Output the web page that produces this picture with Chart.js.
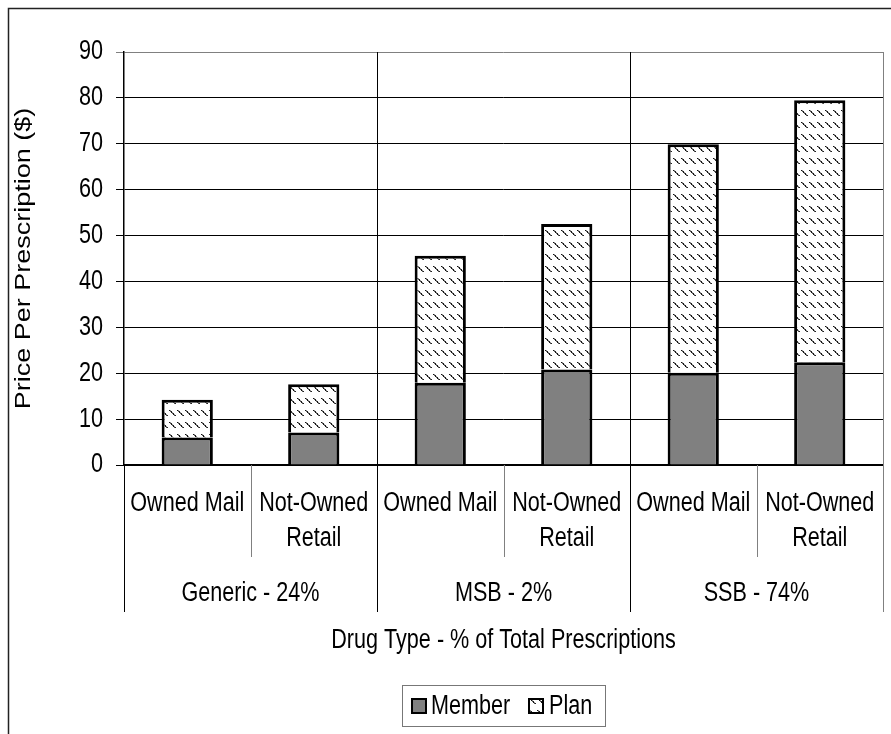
<!DOCTYPE html>
<html>
<head>
<meta charset="utf-8">
<script src="https://cdn.jsdelivr.net/npm/chart.js@4/dist/chart.umd.min.js"></script>
<style>
  html, body { margin: 0; padding: 0; background: #ffffff; }
  #wrap { width: 891px; height: 734px; position: relative; }
</style>
</head>
<body>
<div id="wrap"><canvas id="c" width="891" height="734"></canvas></div>
<script>
// Channel labels under each bar (two bars per drug type)
const channels = ['Owned Mail', ['Not-Owned', 'Retail'], 'Owned Mail', ['Not-Owned', 'Retail'], 'Owned Mail', ['Not-Owned', 'Retail']];
// Drug type groups, each spanning two channels
const drugTypes = ['Generic - 24%', 'MSB - 2%', 'SSB - 74%'];
// Price per prescription ($) split into member share and plan share
const memberCost = [6.0, 7.1, 17.9, 20.8, 20.1, 22.4];
const planCost = [8.2, 10.5, 27.7, 31.7, 49.8, 57.1];
const seriesNames = ['Member', 'Plan'];
const yTicks = [0, 10, 20, 30, 40, 50, 60, 70, 80, 90];

const FONT = "27px 'Liberation Sans', Arial, sans-serif";
const SQUEEZE = 0.8; // condensed lettering: narrower than tall

// Condensed text: regular face compressed horizontally
function condensedText(ctx, text, x, y, align) {
  ctx.save();
  ctx.translate(x, y);
  ctx.scale(SQUEEZE, 1);
  ctx.font = FONT;
  ctx.textAlign = align || 'center';
  ctx.textBaseline = 'middle';
  ctx.fillStyle = '#000';
  ctx.fillText(text, 0, 0);
  ctx.restore();
}

// Dotted downward-diagonal hatch, short dashes in rows
function makeHatch() {
  const t = document.createElement('canvas');
  t.width = 8; t.height = 12;
  const g = t.getContext('2d');
  g.fillStyle = '#ffffff';
  g.fillRect(0, 0, 8, 12);
  for (let i = 0; i < 6; i++) {
    g.fillStyle = (i % 2 === 0) ? '#111111' : '#555555';
    g.fillRect(1 + i, 2 + i, 1, 1);
    g.fillStyle = (i % 2 === 0) ? '#8a8a8a' : '#222222';
    g.fillRect(2 + i, 2 + i, 1, 1);
  }
  const c = document.createElement('canvas').getContext('2d');
  return c.createPattern(t, 'repeat');
}
const hatch = makeHatch();

const decor = {
  id: 'decor',
  afterDraw(chart) {
    const ctx = chart.ctx;
    const x = chart.scales.x;
    const y = chart.scales.y;
    const area = chart.chartArea;
    const n = channels.length;
    const per = n / drugTypes.length;
    const bound = i => {
      if (i <= 0) return area.left;
      if (i >= n) return area.right;
      return (x.getPixelForValue(i - 1) + x.getPixelForValue(i)) / 2;
    };
    const subBottom = area.bottom + 92;
    const groupBottom = area.bottom + 147;

    ctx.save();
    // outer frame
    ctx.strokeStyle = '#222';
    ctx.lineWidth = 1.5;
    ctx.beginPath();
    ctx.moveTo(8.5, 740); ctx.lineTo(8.5, 8.5); ctx.lineTo(900, 8.5);
    ctx.stroke();

    // minor dividers between channels inside a group
    ctx.lineWidth = 1;
    ctx.strokeStyle = '#808080';
    for (let i = 1; i < n; i++) {
      if (i % per === 0) continue;
      const px = Math.round(bound(i)) + 0.5;
      ctx.beginPath(); ctx.moveTo(px, area.bottom); ctx.lineTo(px, subBottom); ctx.stroke();
    }
    // group dividers through plot and category band
    for (let gi = 0; gi <= drugTypes.length; gi++) {
      const i = gi * per;
      const px = Math.round(bound(i)) + 0.5;
      const top = (gi === 0) ? area.bottom : area.top;
      ctx.strokeStyle = (gi === drugTypes.length) ? '#808080' : '#000';
      ctx.beginPath(); ctx.moveTo(px, top); ctx.lineTo(px, groupBottom); ctx.stroke();
    }

    // y tick labels
    yTicks.forEach(v => condensedText(ctx, String(v), 103, y.getPixelForValue(v), 'right'));

    // channel labels
    channels.forEach((lab, i) => {
      const lines = Array.isArray(lab) ? lab : [lab];
      const cx = x.getPixelForValue(i);
      lines.forEach((ln, k) => condensedText(ctx, ln, cx, area.bottom + 39 + k * 35));
    });

    // drug type labels
    drugTypes.forEach((lab, gi) => {
      const cx = (bound(gi * per) + bound((gi + 1) * per)) / 2;
      condensedText(ctx, lab, cx, area.bottom + 129);
    });

    // x axis title
    condensedText(ctx, 'Drug Type - % of Total Prescriptions', (area.left + area.right) / 2, 641);

    // y axis title
    ctx.save();
    ctx.translate(24, (area.top + area.bottom) / 2);
    ctx.rotate(-Math.PI / 2);
    ctx.scale(1 / SQUEEZE, SQUEEZE);
    condensedText(ctx, 'Price Per Prescription ($)', 0, 0);
    ctx.restore();

    // legend
    ctx.strokeStyle = '#777';
    ctx.lineWidth = 1;
    ctx.strokeRect(402.5, 685.5, 203, 41);
    const ly = 706;
    const items = [
      { fill: '#808080', sx: 411, tx: 431, name: seriesNames[0] },
      { fill: hatch, sx: 528, tx: 549, name: seriesNames[1] }
    ];
    items.forEach(it => {
      ctx.fillStyle = it.fill;
      ctx.fillRect(it.sx, ly - 8, 16, 16);
      ctx.strokeStyle = '#000';
      ctx.lineWidth = 2;
      ctx.strokeRect(it.sx + 1, ly - 7, 14, 14);
      condensedText(ctx, it.name, it.tx, ly + 1, 'left');
    });
    ctx.restore();
  }
};

new Chart(document.getElementById('c'), {
  type: 'bar',
  data: {
    labels: channels,
    datasets: [
      { label: seriesNames[0], data: memberCost, backgroundColor: '#808080', borderColor: '#000', borderWidth: 3 },
      { label: seriesNames[1], data: planCost, backgroundColor: hatch, borderColor: '#000', borderWidth: 3 }
    ]
  },
  options: {
    responsive: false,
    animation: false,
    devicePixelRatio: 1,
    layout: { padding: { top: 52, right: 8, left: 0, bottom: 122 } },
    datasets: { bar: { categoryPercentage: 1, barPercentage: 0.405 } },
    plugins: { legend: { display: false }, tooltip: { enabled: false } },
    scales: {
      x: {
        stacked: true,
        grid: { display: false, drawTicks: false },
        border: { display: true, color: '#000', width: 1.5 },
        ticks: { display: false },
        afterFit(s) { s.height = 147; }
      },
      y: {
        stacked: true,
        min: 0, max: 90,
        afterBuildTicks(s) { s.ticks = yTicks.map(v => ({ value: v })); },
        grid: {
          color: c => (c.tick && c.tick.value === 90) ? '#808080' : '#000',
          lineWidth: 1, tickLength: 8, drawTicks: true
        },
        border: { display: true, color: '#000', width: 1.5 },
        ticks: { display: false },
        afterFit(s) { s.width = 124; }
      }
    }
  },
  plugins: [decor]
});
</script>
</body>
</html>
